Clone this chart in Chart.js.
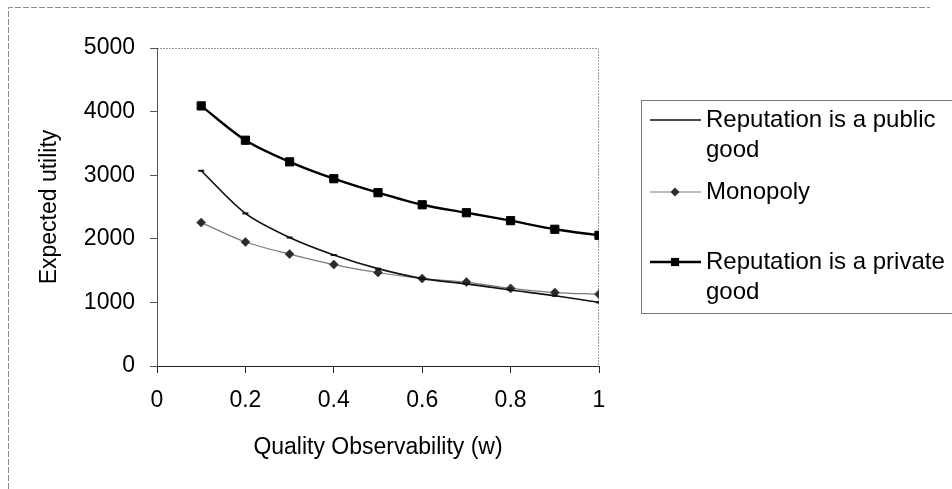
<!DOCTYPE html>
<html lang="en">
<head>
  <meta charset="UTF-8">
  <title>Expected utility vs quality observability</title>
  <script src="https://cdn.jsdelivr.net/npm/chart.js"></script>
  <style>
    html, body { margin: 0; padding: 0; background: #fff; }
    #wrap { width: 952px; height: 489px; position: relative; }
  </style>
</head>
<body>
  <div id="wrap"><canvas id="utilChart"></canvas></div>

  <script>
    // data
    const wValues = [0.1, 0.2, 0.3, 0.4, 0.5, 0.6, 0.7, 0.8, 0.9, 1.0];
    const publicGood = [3070, 2400, 2020, 1745, 1530, 1375, 1290, 1195, 1105, 1000];
    const monopoly = [2255, 1950, 1760, 1595, 1470, 1375, 1320, 1220, 1155, 1130];
    const privateGood = [4090, 3550, 3210, 2945, 2725, 2535, 2410, 2285, 2150, 2055];
    const xTicks = [0, 0.2, 0.4, 0.6, 0.8, 1];
    const yTicks = [0, 1000, 2000, 3000, 4000, 5000];
    const legendLines = [
      ['Reputation is a public', 'good'],
      ['Monopoly'],
      ['Reputation is a private', 'good']
    ];

    const FONT = '"Liberation Sans", Arial, sans-serif';

    const toPts = ys => ys.map((y, i) => ({ x: wValues[i], y: y }));

    // outer frame + plot border
    const framePlugin = {
      id: 'frame',
      beforeDraw(chart) {
        const ctx = chart.ctx;
        const a = chart.chartArea;
        ctx.save();
        ctx.strokeStyle = '#8a8a8a';
        ctx.lineWidth = 1;
        ctx.setLineDash([6, 2]);
        ctx.beginPath();
        ctx.moveTo(8.5, 489);
        ctx.lineTo(8.5, 7.5);
        ctx.lineTo(930, 7.5);
        ctx.stroke();
        ctx.setLineDash([2, 1]);
        ctx.strokeStyle = '#9a9a9a';
        ctx.beginPath();
        ctx.moveTo(a.left, a.top + 0.5);
        ctx.lineTo(a.right - 0.5, a.top + 0.5);
        ctx.lineTo(a.right - 0.5, a.bottom);
        ctx.stroke();
        ctx.restore();
      }
    };

    // Excel-like legend box on the right
    const legendPlugin = {
      id: 'boxLegend',
      afterDraw(chart) {
        const ctx = chart.ctx;
        const sets = chart.data.datasets;
        const rowY = [120, 192, 262];
        ctx.save();
        ctx.strokeStyle = '#7a7a7a';
        ctx.lineWidth = 1;
        ctx.strokeRect(641.5, 100.5, 330, 213);
        ctx.font = '24px ' + FONT;
        ctx.textBaseline = 'middle';
        sets.forEach((ds, i) => {
          const y = rowY[i];
          ctx.strokeStyle = ds.borderColor;
          ctx.lineWidth = ds.borderWidth;
          ctx.beginPath();
          ctx.moveTo(650, y);
          ctx.lineTo(701, y);
          ctx.stroke();
          ctx.fillStyle = ds.pointBackgroundColor;
          ctx.strokeStyle = ds.pointBorderColor;
          ctx.lineWidth = ds.pointBorderWidth;
          Chart.helpers.drawPoint(ctx, { pointStyle: ds.pointStyle, radius: ds.pointRadius, rotation: 0 }, 675, y);
          ctx.fillStyle = '#000';
          legendLines[i].forEach((t, k) => ctx.fillText(t, 706, y + k * 30));
        });
        ctx.restore();
      }
    };

    new Chart(document.getElementById('utilChart'), {
      type: 'line',
      data: {
        datasets: [
          {
            label: legendLines[0].join(' '),
            data: toPts(publicGood),
            borderColor: '#111',
            borderWidth: 1.7,
            pointStyle: 'line',
            pointRadius: 3,
            pointBorderWidth: 2,
            pointBackgroundColor: '#111',
            pointBorderColor: '#111',
            tension: 0.3
          },
          {
            label: legendLines[1].join(' '),
            data: toPts(monopoly),
            borderColor: '#7a7a7a',
            borderWidth: 1.2,
            pointStyle: 'rectRot',
            pointRadius: 4.5,
            pointBorderWidth: 1,
            pointBackgroundColor: '#2a2a2a',
            pointBorderColor: '#555',
            tension: 0.3
          },
          {
            label: legendLines[2].join(' '),
            data: toPts(privateGood),
            borderColor: '#000',
            borderWidth: 2.4,
            pointStyle: 'rect',
            pointRadius: 5.8,
            pointBorderWidth: 1,
            pointBackgroundColor: '#000',
            pointBorderColor: '#000',
            tension: 0.3
          }
        ]
      },
      options: {
        responsive: true,
        maintainAspectRatio: false,
        animation: false,
        layout: { padding: { top: 48, right: 353, bottom: 28, left: 36 } },
        plugins: { legend: { display: false }, tooltip: { enabled: false } },
        scales: {
          x: {
            type: 'linear',
            min: 0,
            max: 1,
            afterBuildTicks: s => { s.ticks = xTicks.map(v => ({ value: v })); },
            afterFit: s => { s.height = 95; },
            grid: { drawOnChartArea: false, drawTicks: true, tickLength: 7, color: '#222' },
            border: { display: true, color: '#222', width: 1 },
            ticks: { color: '#000', padding: 14, font: { family: FONT, size: 23 }, callback: v => String(v) },
            title: { display: true, text: 'Quality Observability (w)', color: '#000', padding: 0, font: { family: FONT, size: 23 } }
          },
          y: {
            min: 0,
            max: 5000,
            afterBuildTicks: s => { s.ticks = yTicks.map(v => ({ value: v })); },
            afterFit: s => { s.width = 121; },
            grid: { drawOnChartArea: false, drawTicks: true, tickLength: 7, color: '#555' },
            border: { display: true, color: '#555', width: 1 },
            ticks: { color: '#000', padding: 15, font: { family: FONT, size: 23 }, callback: v => String(v) },
            title: { display: true, text: 'Expected utility', color: '#000', padding: 0, font: { family: FONT, size: 23 } }
          }
        }
      },
      plugins: [framePlugin, legendPlugin]
    });
  </script>
</body>
</html>
